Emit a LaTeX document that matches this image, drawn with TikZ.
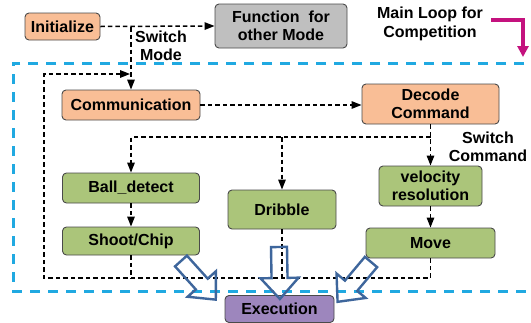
\documentclass[tikz,border=0pt]{standalone}
\usepackage{fontspec}
\setmainfont{Liberation Sans}
\usetikzlibrary{arrows.meta}
\definecolor{orfill}{HTML}{F9BE96}
\definecolor{grfill}{HTML}{BFBFBF}
\definecolor{gnfill}{HTML}{ABC57A}
\definecolor{pufill}{HTML}{9D86BD}
\definecolor{boxline}{HTML}{4A4A4A}
\definecolor{loopblue}{HTML}{20A9E1}
\definecolor{loopmag}{HTML}{C4127E}
\definecolor{arrblue}{HTML}{3E669C}
\tikzset{
  box/.style={draw=boxline, rounded corners=4pt, line width=0.9pt, inner sep=0pt, align=center},
  orbox/.style={box, fill=orfill},
  grbox/.style={box, fill=grfill},
  gnbox/.style={box, fill=gnfill},
  pubox/.style={box, fill=pufill},
  dline/.style={line width=1.5pt, dash pattern=on 4.5pt off 3pt},
  flow/.style={dline, -{Triangle[length=10pt,width=7.5pt]}},
  lbl/.style={align=center, inner sep=0pt},
  arrowline/.style={draw=arrblue, line width=2.4pt, line join=miter},
  blockarrow/.pic={
    \draw[arrowline] (0,-8) -- (31,-8) -- (31,-19) -- (52,0) -- (31,19) -- (31,8) -- (0,8) -- cycle;
  }
}
\begin{document}
\begin{tikzpicture}[x=1pt,y=-1pt,font=\bfseries\fontsize{16}{18.5}\selectfont]
\clip (0,0) rectangle (531,322);
\fill[white] (0,0) rectangle (531,322);

% blue main loop frame
\draw[loopblue, line width=3pt, dash pattern=on 10pt off 8pt] (560,63) -- (13,63) -- (13,291) -- (560,291);

% nodes
\node[orbox, minimum width=75pt, minimum height=27pt] (init) at (62.5,26.5) {Initialize};
\node[grbox, minimum width=132pt, minimum height=44pt] (func) at (281,26) {Function\ \ for\\other Mode};
\node[orbox, minimum width=138pt, minimum height=30pt] (comm) at (131,105) {Communication};
\node[orbox, minimum width=137pt, minimum height=40pt] (dec) at (430.5,104) {Decode\\Command};
\node[gnbox, minimum width=137pt, minimum height=30pt] (ball) at (131,188) {Ball\_detect};
\node[gnbox, minimum width=137pt, minimum height=28pt] (shoot) at (131,241) {Shoot/Chip};
\node[gnbox, minimum width=108pt, minimum height=39pt] (drib) at (282,209.5) {Dribble};
\node[gnbox, minimum width=103pt, minimum height=40pt] (vel) at (430.5,186) {velocity\\resolution};
\node[gnbox, minimum width=129pt, minimum height=30pt] (move) at (430.5,243) {Move};
\node[pubox, minimum width=109pt, minimum height=27pt] (exec) at (279.5,309) {Execution};

% labels
\node[lbl] (swm) at (161,46) {Switch\\Mode};
\node[lbl] (swc) at (488,147) {Switch\\Command};
\node[lbl] (mlt) at (430,24) {Main Loop for\\Competition};

% magenta arrow
\coordinate (ml1) at (491,20);
\coordinate (ml2) at (523,20);
\coordinate (ml3) at (523,57);
\draw[loopmag, line width=3.8pt, -{Triangle[length=11pt,width=11pt]}] (ml1) -- (ml2) -- (ml3);

% connectors
\draw[flow] (init.east) -- (func.west);
\coordinate (sw) at (131,27);
\draw[flow] (sw) -- (comm.north);

\coordinate (loopBL) at (44,278);
\coordinate (loopTL) at (44,74);
\coordinate (loopend) at (130,74);
\draw[flow] (move.south) |- (loopBL) -- (loopTL) -- (loopend);
\draw[dline] (shoot.south) -- (shoot.south |- loopBL);
\draw[dline] (drib.south) -- (drib.south |- loopBL);

\draw[flow] (comm.east) -- (dec.west |- comm.east);
\draw[flow] (dec.south) -- (vel.north);
\coordinate (sc) at (430.5,137);
\draw[flow] (sc) -| (ball.north);
\draw[flow] (drib.north |- sc) -- (drib.north);
\draw[flow] (ball.south) -- (shoot.north);
\draw[flow] (vel.south) -- (move.north);

% hollow block arrows into Execution
\pic[rotate=-48] at (181,261) {blockarrow};
\pic[rotate=-89] at (279,247) {blockarrow};
\pic[rotate=-130] at (371,262) {blockarrow};
\end{tikzpicture}
\end{document}
